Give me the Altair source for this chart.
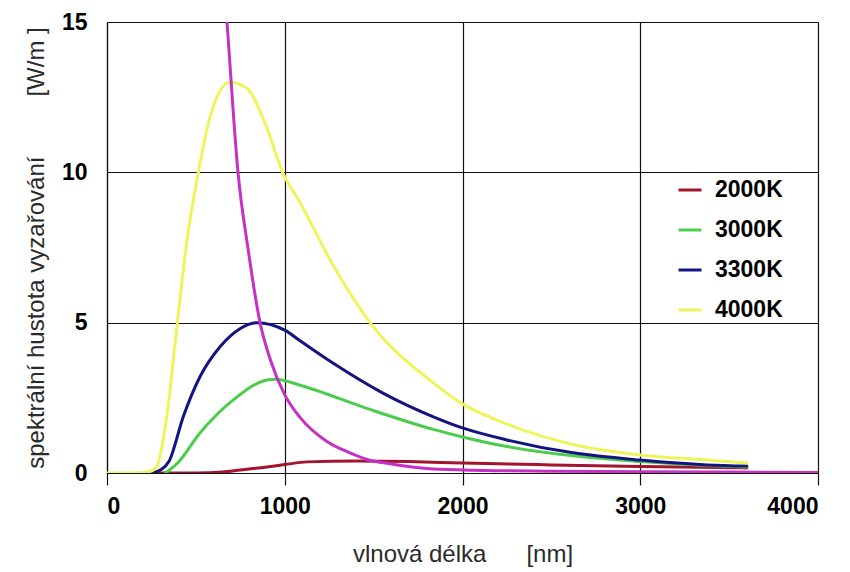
import altair as alt
import pandas as pd

# --- data ---
series_names = ["2000K", "3000K", "3300K", "4000K"]
series_colors = ["#a3142f", "#4ccc4c", "#141480", "#eef55a"]

wl_2000 = [250, 500, 650, 750, 900, 1000, 1125, 1400, 1700, 2000, 2500, 3000, 3600]
val_2000 = [0.0, 0.0, 0.03, 0.1, 0.2, 0.28, 0.37, 0.4, 0.38, 0.33, 0.27, 0.22, 0.17]

wl_3000 = [330, 400, 523, 711, 898, 950, 1086, 1461, 1836, 2000, 2250, 2622, 3000, 3376, 3600]
val_3000 = [0.0, 0.35, 1.33, 2.43, 3.09, 3.12, 2.92, 2.15, 1.45, 1.2, 0.88, 0.57, 0.38, 0.25, 0.2]

wl_3300 = [250, 300, 350, 429, 523, 636, 748, 842, 1000, 1086, 1273, 1555, 1836, 2000, 2250, 2622, 3000, 3376, 3600]
val_3300 = [0.0, 0.1, 0.4, 1.87, 3.2, 4.2, 4.8, 5.0, 4.75, 4.4, 3.65, 2.65, 1.87, 1.5, 1.1, 0.67, 0.43, 0.27, 0.23]

wl_4000 = [0, 100, 200, 242, 280, 336, 396, 448, 514, 580, 692, 786, 898, 988, 1086, 1273, 1480, 1836, 2000, 2211, 2622, 3000, 3376, 3600]
val_4000 = [0.0, 0.0, 0.02, 0.05, 0.21, 1.87, 5.0, 7.65, 10.0, 11.85, 13.0, 12.8, 11.5, 10.0, 9.0, 6.9, 5.0, 3.0, 2.3, 1.72, 0.95, 0.6, 0.43, 0.33]

wl_extra = [650, 675, 737, 795, 861, 917, 1000, 1086, 1237, 1367, 1463, 1600, 1800, 2000, 2500, 3000, 3500, 4000]
val_extra = [17.0, 15.0, 10.0, 7.4, 5.0, 3.8, 2.6, 1.85, 1.05, 0.67, 0.45, 0.3, 0.15, 0.1, 0.06, 0.04, 0.03, 0.02]

x_ticks = [0, 1000, 2000, 3000, 4000]
y_ticks = [0, 5, 10, 15]

rows = []
for name, xs, ys in zip(series_names,
                        [wl_2000, wl_3000, wl_3300, wl_4000],
                        [val_2000, val_3000, val_3300, val_4000]):
    for xv, yv in zip(xs, ys):
        rows.append({"series": name, "wl": xv, "val": yv})
df = pd.DataFrame(rows)
df_extra = pd.DataFrame({"wl": wl_extra, "val": val_extra})

NB = "\u00a0"
x_title = "vlnová délka" + NB * 6 + "[nm]"
y_title = "spektrální hustota vyzařování" + NB * 9 + "[W/m" + NB + "]"

LABEL_FONT = "Liberation Sans, Arial, sans-serif"

x_enc = alt.X("wl:Q",
              scale=alt.Scale(domain=[0, 4000], nice=False),
              axis=alt.Axis(values=x_ticks, title=x_title, format="d",
                            grid=True, gridColor="#111", gridWidth=1.2,
                            domainColor="#111", domainWidth=1.2,
                            tickColor="#111", tickSize=12, tickWidth=1.2,
                            labelFont=LABEL_FONT, labelFontSize=23, labelFontWeight="bold",
                            labelColor="#000", labelPadding=10,
                            titleFont=LABEL_FONT, titleFontSize=24, titleFontWeight="normal",
                            titleColor="#2a2a2a", titleBaseline="alphabetic",
                            titleY=88, titleX=355.5))
y_enc = alt.Y("val:Q",
              scale=alt.Scale(domain=[0, 15], nice=False),
              axis=alt.Axis(values=y_ticks, title=y_title,
                            grid=True, gridColor="#111", gridWidth=1.2,
                            domainColor="#111", domainWidth=1.2,
                            tickSize=0, labelPadding=20,
                            labelFont=LABEL_FONT, labelFontSize=23, labelFontWeight="bold",
                            labelColor="#000",
                            titleFont=LABEL_FONT, titleFontSize=24, titleFontWeight="normal",
                            titleColor="#2a2a2a", titleAngle=-90, titleAlign="center",
                            titleBaseline="middle", titleX=-71, titleY=225.5))

lines = alt.Chart(df).mark_line(clip=True, interpolate="monotone",
                                strokeJoin="round", strokeCap="round").encode(
    x=x_enc,
    y=y_enc,
    color=alt.Color("series:N",
                    scale=alt.Scale(domain=series_names, range=series_colors),
                    legend=alt.Legend(title=None, orient="none", legendX=570, legendY=155,
                                      symbolType="stroke", symbolSize=529,
                                      symbolStrokeWidth=3.5, labelOffset=12,
                                      rowPadding=15, padding=0,
                                      labelFont=LABEL_FONT, labelFontSize=23,
                                      labelFontWeight="bold", labelColor="#000")),
    strokeWidth=alt.StrokeWidth("series:N",
                                scale=alt.Scale(domain=series_names, range=[3, 3, 3, 4]),
                                legend=None),
    detail="series:N",
)

extra = alt.Chart(df_extra).mark_line(clip=True, interpolate="monotone",
                                      color="#c431c4", strokeWidth=3).encode(
    x=alt.X("wl:Q"),
    y=alt.Y("val:Q"),
)

chart = alt.layer(lines, extra).properties(
    width=711,
    height=451,
    autosize=alt.AutoSizeParams(type="none"),
    padding={"left": 99, "top": 14, "right": 20, "bottom": 95},
).configure_view(strokeWidth=0).configure(background="white")

chart.save("out.html", embed_options={"renderer": "svg", "actions": False})
